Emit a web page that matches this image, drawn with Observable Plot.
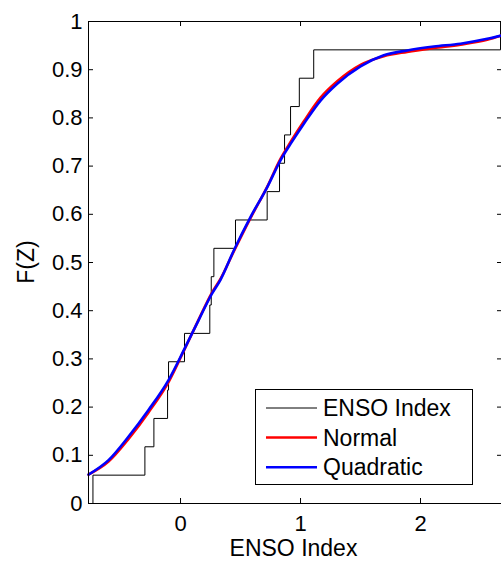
<!DOCTYPE html>
<html><head><meta charset="utf-8">
<script src="https://cdn.jsdelivr.net/npm/d3@7"></script>
<script src="https://cdn.jsdelivr.net/npm/@observablehq/plot@0.6"></script>
<style>
body{margin:0;background:#fff;}
#chart svg{display:block}
</style></head><body><div id="chart"></div>
<script>
// Sorted ENSO index sample (empirical CDF)
const ensoValues = [-0.73, -0.297, -0.222, -0.108, -0.10, 0.033, 0.244, 0.256, 0.278, 0.458, 0.722, 0.825, 0.867, 0.917, 0.99, 1.11, 2.667];
// Fitted CDF curves
const curveX = [-0.767, -0.6, -0.433, -0.267, -0.1, 0.039, 0.15, 0.261, 0.333, 0.444, 0.583, 0.722, 0.833, 0.917, 1.028, 1.167, 1.306, 1.5, 1.694, 1.889, 2.111, 2.333, 2.556, 2.675];
const quadY   = [0.060, 0.090, 0.139, 0.194, 0.256, 0.324, 0.380, 0.435, 0.464, 0.525, 0.594, 0.656, 0.712, 0.746, 0.788, 0.836, 0.871, 0.907, 0.930, 0.940, 0.948, 0.954, 0.964, 0.971];
const normalY = [0.060, 0.087, 0.134, 0.189, 0.252, 0.323, 0.381, 0.437, 0.466, 0.523, 0.592, 0.657, 0.715, 0.750, 0.793, 0.842, 0.876, 0.910, 0.928, 0.937, 0.945, 0.952, 0.962, 0.971];
const xTicks = [0, 1, 2];
const xTickLabels = ["0", "1", "2"];
const yTicks = [0, 0.1, 0.2, 0.3, 0.4, 0.5, 0.6, 0.7, 0.8, 0.9, 1];
const yTickLabels = ["0", "0.1", "0.2", "0.3", "0.4", "0.5", "0.6", "0.7", "0.8", "0.9", "1"];
const legendLabels = ["ENSO Index", "Normal", "Quadratic"];
const legendColors = ["#000000", "#ff0000", "#0000ff"];
const legendWidths = [1, 2.5, 2.5];
const xLabel = "ENSO Index";
const yLabel = "F(Z)";

const n = ensoValues.length;
const ecdf = [{x: ensoValues[0], y: 0}].concat(ensoValues.map((v, i) => ({x: v, y: (i + 1) / n})));
const normal = curveX.map((x, i) => ({x, y: normalY[i]}));
const quad = curveX.map((x, i) => ({x, y: quadY[i]}));

const W = 501, H = 562, mL = 88, mR = 0, mT = 21, mB = 59;
const fw = W - mL - mR, fh = H - mT - mB;
const font = "'Liberation Sans', Arial, Helvetica, sans-serif";
const xDomain = [-0.767, 2.675];

const chart = Plot.plot({
  width: W, height: H,
  marginLeft: mL, marginRight: mR, marginTop: mT, marginBottom: mB,
  x: {domain: xDomain},
  y: {domain: [0, 1]},
  style: {fontFamily: font, fontSize: "22px", color: "#000", background: "#fff"},
  marks: [
    Plot.line(ecdf, {x: "x", y: "y", curve: "step-after", stroke: "#000", strokeWidth: 1}),
    Plot.line(normal, {x: "x", y: "y", curve: "monotone-x", stroke: "#ff0000", strokeWidth: 2.6}),
    Plot.line(quad, {x: "x", y: "y", curve: "monotone-x", stroke: "#0000ff", strokeWidth: 2.6}),
    Plot.ruleY([0, 1], {stroke: "#000", strokeWidth: 1}),
    Plot.ruleX([xDomain[0]], {stroke: "#000", strokeWidth: 1}),
    Plot.tickX(xTicks, {x: d => d, insetTop: fh - 5, stroke: "#000"}),
    Plot.tickX(xTicks, {x: d => d, insetBottom: fh - 5, stroke: "#000"}),
    Plot.tickY(yTicks, {y: d => d, insetRight: fw - 5, stroke: "#000"}),
    Plot.tickY(yTicks, {y: d => d, insetLeft: fw - 4, stroke: "#000"}),
    Plot.axisX(xTicks, {tickSize: 0, tickPadding: 12, label: null, tickFormat: d => xTickLabels[xTicks.indexOf(d)]}),
    Plot.axisY(yTicks, {tickSize: 0, tickPadding: 6, label: null, tickFormat: d => yTickLabels[yTicks.indexOf(d)]})
  ]
});

const svg = d3.select(chart);
svg.append("text").attr("x", mL + (W - mL) / 2 - 1).attr("y", 556)
  .attr("text-anchor", "middle").attr("font-size", 23).attr("font-family", font).attr("fill", "#000").text(xLabel);
svg.append("text").attr("transform", "translate(34,262) rotate(-90)")
  .attr("text-anchor", "middle").attr("font-size", 23).attr("font-family", font).attr("fill", "#000").text(yLabel);

const lg = svg.append("g").attr("font-family", font).attr("font-size", 23).attr("text-anchor", "start");
lg.append("rect").attr("x", 255.5).attr("y", 389.5).attr("width", 217).attr("height", 95)
  .attr("fill", "#fff").attr("stroke", "#000").attr("stroke-width", 1);
legendLabels.forEach((lab, i) => {
  const y = 408 + i * 29.6;
  lg.append("line").attr("x1", 266).attr("x2", 317).attr("y1", y).attr("y2", y)
    .attr("stroke", legendColors[i]).attr("stroke-width", legendWidths[i]);
  lg.append("text").attr("x", 323).attr("y", y).attr("dy", "0.35em").attr("text-anchor", "start").attr("fill", "#000").text(lab);
});

document.getElementById("chart").appendChild(chart);
</script></body></html>
